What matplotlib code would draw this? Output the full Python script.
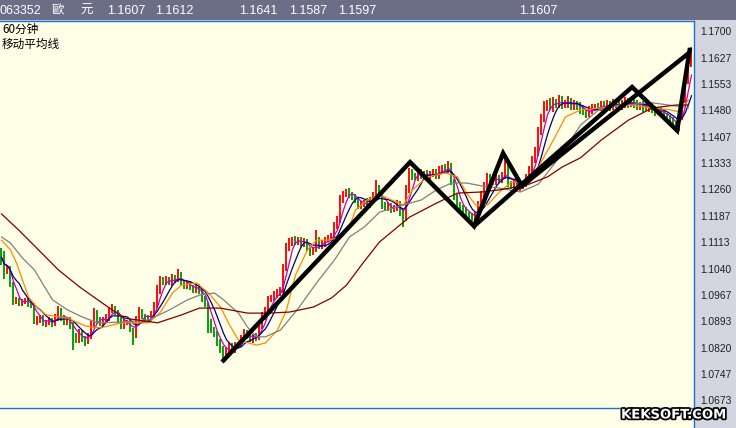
import matplotlib
matplotlib.use("Agg")
import matplotlib.pyplot as plt
import matplotlib.patheffects as pe
from matplotlib.lines import Line2D
from matplotlib.patches import Rectangle
import numpy as np
import pandas as pd

# ---------------- data (prices in 1/10000 units) ----------------
first_open_pips = 11090
close_pips = [
    11071, 11034, 11038, 10995, 10947, 10953, 10945, 10947, 10953, 10942,
    10939, 10892, 10897, 10903, 10886, 10892, 10897, 10886, 10903, 10925,
    10903, 10892, 10897, 10880, 10855, 10842, 10863, 10847, 10836, 10853,
    10883, 10920, 10897, 10886, 10897, 10903, 10925, 10930, 10920, 10897,
    10880, 10892, 10892, 10870, 10855, 10897, 10920, 10908, 10903, 10897,
    10914, 10937, 10980, 11009, 11003, 11009, 11000, 11014, 11009, 11022,
    11003, 10992, 10997, 10987, 10980, 10987, 10975, 10958, 10942, 10892,
    10870, 10858, 10836, 10820, 10803, 10813, 10825, 10813, 10828, 10830,
    10847, 10863, 10853, 10842, 10853, 10847, 10880, 10908, 10925, 10953,
    10958, 10967, 10975, 10980, 11042, 11097, 11114, 11120, 11114, 11120,
    11109, 11114, 11097, 11087, 11092, 11120, 11103, 11109, 11120, 11125,
    11130, 11159, 11175, 11231, 11247, 11254, 11247, 11242, 11231, 11214,
    11220, 11225, 11217, 11231, 11242, 11264, 11245, 11217, 11209, 11214,
    11204, 11209, 11220, 11197, 11181, 11259, 11309, 11297, 11292, 11309,
    11297, 11304, 11292, 11304, 11309, 11297, 11314, 11320, 11314, 11326,
    11281, 11242, 11217, 11209, 11204, 11192, 11187, 11181, 11187, 11217,
    11245, 11272, 11295, 11287, 11281, 11292, 11287, 11297, 11320, 11276,
    11270, 11276, 11264, 11270, 11276, 11292, 11314, 11342, 11364, 11421,
    11459, 11492, 11498, 11492, 11504, 11498, 11509, 11498, 11498, 11504,
    11492, 11498, 11496, 11481, 11476, 11471, 11481, 11487, 11489, 11487,
    11496, 11492, 11498, 11492, 11498, 11501, 11492, 11498, 11504, 11498,
    11506, 11498, 11492, 11496, 11489, 11487, 11492, 11481, 11476, 11481,
    11473, 11464, 11462, 11454, 11442, 11431, 11459, 11509, 11564, 11614,
    11626]
wick_up = [
    6, 17, 8, 10, 7, 9, 5, 8, 6, 9,
    8, 6, 10, 7, 9, 5, 8, 6, 10, 12,
    6, 9, 7, 8, 10, 6, 9, 7, 5, 8,
    12, 9, 6, 8, 7, 10, 8, 11, 6, 5,
    7, 9, 6, 8, 5, 10, 12, 7, 6, 8,
    9, 11, 14, 10, 8, 9, 7, 12, 8, 16,
    8, 6, 9, 7, 8, 6, 9, 7, 5, 6,
    8, 6, 7, 9, 5, 8, 10, 7, 9, 6,
    8, 10, 7, 9, 6, 8, 12, 10, 9, 11,
    8, 10, 7, 9, 12, 14, 10, 8, 11, 9,
    7, 10, 8, 6, 9, 26, 8, 10, 7, 9,
    8, 11, 12, 14, 10, 8, 9, 7, 6, 8,
    9, 7, 10, 8, 12, 22, 9, 7, 8, 10,
    8, 9, 10, 7, 6, 14, 12, 9, 8, 10,
    9, 8, 10, 7, 9, 8, 11, 9, 10, 12,
    7, 8, 6, 9, 7, 8, 6, 7, 9, 10,
    12, 10, 11, 9, 8, 10, 9, 11, 21, 7,
    8, 10, 7, 9, 8, 10, 12, 11, 13, 14,
    12, 14, 10, 16, 12, 9, 14, 10, 12, 16,
    10, 12, 9, 8, 10, 9, 12, 10, 8, 11,
    9, 10, 12, 8, 14, 10, 9, 11, 13, 10,
    12, 9, 11, 8, 10, 9, 7, 8, 10, 9,
    8, 7, 9, 6, 8, 7, 10, 12, 14, 15,
    29]
wick_dn = [
    22, 24, 10, 7, 9, 6, 8, 10, 7, 8,
    10, 7, 9, 8, 6, 10, 8, 9, 7, 8,
    9, 8, 10, 7, 42, 8, 9, 10, 12, 7,
    8, 9, 10, 7, 8, 6, 9, 8, 10, 11,
    9, 8, 10, 7, 28, 8, 9, 7, 10, 8,
    7, 9, 8, 10, 9, 8, 7, 9, 8, 7,
    9, 8, 10, 7, 9, 8, 7, 10, 9, 31,
    10, 8, 12, 16, 17, 9, 10, 8, 9, 7,
    9, 8, 10, 7, 9, 8, 7, 9, 10, 8,
    7, 9, 8, 10, 8, 9, 7, 10, 8, 9,
    10, 8, 9, 11, 8, 7, 10, 8, 9, 7,
    9, 8, 10, 7, 8, 9, 10, 12, 8, 9,
    8, 10, 7, 9, 8, 10, 9, 11, 8, 9,
    10, 8, 9, 11, 25, 9, 8, 10, 7, 9,
    8, 9, 7, 10, 8, 9, 7, 10, 8, 9,
    9, 10, 12, 8, 9, 10, 8, 9, 10, 8,
    9, 8, 10, 7, 9, 8, 10, 9, 8, 10,
    9, 8, 10, 7, 9, 8, 10, 9, 8, 10,
    10, 12, 14, 10, 16, 12, 10, 14, 12, 10,
    12, 10, 14, 12, 10, 11, 9, 12, 10, 9,
    10, 12, 9, 14, 10, 12, 9, 10, 11, 12,
    9, 11, 10, 12, 14, 10, 12, 9, 11, 10,
    9, 10, 8, 9, 10, 12, 8, 7, 9, 10,
    12]

# longer moving averages (bar index, price*10000)
orange_i = [0, 3, 5, 7, 9, 12, 15, 22, 28, 33, 40, 49, 53, 57, 60, 65, 69, 73, 76, 79,
            85, 88, 92, 95, 98, 102, 105, 109, 113, 116, 118, 122, 126, 134, 137, 142,
            148, 152, 155, 158, 162, 166, 170, 175, 179, 184, 188, 193, 200, 209, 217,
            223, 226, 229]
orange_pips = [11119, 11092, 11055, 11008, 10961, 10930, 10911, 10902, 10880, 10875,
               10889, 10889, 10919, 10972, 10994, 11000, 10972, 10933, 10883, 10841,
               10827, 10833, 10869, 10925, 11022, 11092, 11119, 11119, 11128, 11156,
               11203, 11231, 11245, 11217, 11259, 11295, 11306, 11295, 11250, 11217,
               11217, 11253, 11281, 11278, 11323, 11398, 11462, 11481, 11487, 11495,
               11487, 11481, 11476, 11509]
gray_i = [0, 3, 7, 11, 14, 17, 22, 27, 32, 40, 49, 56, 62, 66, 71, 74, 79, 82, 85, 88,
          93, 99, 105, 111, 116, 121, 126, 134, 140, 145, 150, 155, 160, 166, 173, 179,
          186, 193, 199, 206, 217, 225, 229]
gray_pips = [11128, 11111, 11069, 11036, 10994, 10953, 10925, 10905, 10889, 10891,
             10897, 10925, 10953, 10966, 10972, 10953, 10916, 10877, 10850, 10850,
             10869, 10930, 11000, 11064, 11128, 11156, 11197, 11217, 11231, 11259,
             11278, 11278, 11270, 11264, 11253, 11275, 11350, 11439, 11481, 11495,
             11501, 11492, 11487]
maroon_i = [0, 6, 14, 19, 26, 36, 41, 52, 60, 66, 73, 82, 89, 96, 104, 110, 115, 120,
            126, 136, 145, 152, 160, 166, 175, 182, 187, 193, 200, 209, 217, 225, 229]
maroon_pips = [11192, 11145, 11078, 11036, 10989, 10930, 10902, 10889, 10911, 10930,
               10930, 10916, 10916, 10919, 10933, 10958, 10994, 11050, 11114, 11183,
               11222, 11250, 11253, 11259, 11272, 11295, 11323, 11348, 11398, 11453,
               11487, 11495, 11495]

# hand-drawn trend lines (bar index, price)
trend1_i = [73.5, 136.2, 157.5, 167.2, 173.5, 229.5]
trend1_p = [1.0780, 1.1336, 1.1158, 1.1361, 1.1270, 1.1642]
trend2_i = [157.5, 210.2, 225.2, 229.5]
trend2_p = [1.1158, 1.1545, 1.1424, 1.1654]

ytick_labels = ["1.1700", "1.1627", "1.1553", "1.1480", "1.1407", "1.1333", "1.1260",
                "1.1187", "1.1113", "1.1040", "1.0967", "1.0893", "1.0820", "1.0747",
                "1.0673"]
header_texts = ["063352", "歐", "元", "1.1607", "1.1612", "1.1641", "1.1587", "1.1597", "1.1607"]
title_lines = ["60分钟", "移动平均线"]

# ---------------- figure ----------------
W, H = 736, 428
BLUE = "#1673d6"
fig = plt.figure(figsize=(W / 100, H / 100), dpi=100)
fig.patch.set_facecolor("#d5d5e1")

fig.add_artist(Rectangle((0, 1 - 20 / H), 1, 20 / H, transform=fig.transFigure,
                         facecolor="#6c6e87", edgecolor="none", zorder=0))
header_x = [0, 52, 80, 107, 155, 239, 289, 338, 519]
for t, x in zip(header_texts, header_x):
    fig.text(x / W, 1 - 11 / H, t, color="white", fontsize=9, va="center", ha="left",
             family=["Liberation Sans", "Noto Sans CJK TC"])

ax = fig.add_axes([0, 0, 694 / W, 407 / H])
ax.set_facecolor("#fffee6")

n = min(len(close_pips), len(wick_up), len(wick_dn))
close = np.array(close_pips[:n]) / 10000.0
opens = np.concatenate([[first_open_pips / 10000.0], close[:-1]])
hi = np.maximum(opens, close) + np.array(wick_up[:n]) / 10000.0
lo = np.minimum(opens, close) - np.array(wick_dn[:n]) / 10000.0
idx = np.arange(n)
up = close >= opens
ax.vlines(idx[up], lo[up], hi[up], color="#ff0000", lw=1.35, zorder=2)
ax.vlines(idx[~up], lo[~up], hi[~up], color="#009a00", lw=1.35, zorder=2)

s = pd.Series(close)
ax.plot(idx, s.rolling(4, min_periods=1).mean(), color="#c000c0", lw=0.9, zorder=3)
ax.plot(idx, s.rolling(7, min_periods=1).mean(), color="#000080", lw=0.9, zorder=3)
ax.plot(orange_i, np.array(orange_pips) / 10000.0, color="#ff8a00", lw=0.9, zorder=3)
ax.plot(gray_i, np.array(gray_pips) / 10000.0, color="#808080", lw=0.9, zorder=3)
ax.plot(maroon_i, np.array(maroon_pips) / 10000.0, color="#800000", lw=0.9, zorder=3)

ax.plot(trend1_i, trend1_p, color="black", lw=3.2, zorder=4,
        solid_joinstyle="miter", solid_capstyle="butt")
ax.plot(trend2_i, trend2_p, color="black", lw=3.2, zorder=4,
        solid_joinstyle="miter", solid_capstyle="butt")

ax.set_xlim(-0.5, 694 / 3 - 0.5)
ax.set_ylim(1.05964, 1.17287)
ax.set_xticks([])
ax.yaxis.tick_right()
ax.set_yticks([float(v) for v in ytick_labels])
ax.set_yticklabels(ytick_labels, family="Liberation Sans")
ax.tick_params(axis="y", length=0, pad=4.5, labelsize=7.4, labelcolor="#202020")
for side in ("left", "bottom"):
    ax.spines[side].set_visible(False)
for side in ("top", "right"):
    ax.spines[side].set_color(BLUE)
    ax.spines[side].set_linewidth(1.0)

fig.add_artist(Line2D([0, 694 / W], [1 - 408 / H, 1 - 408 / H], transform=fig.transFigure,
                      color=BLUE, lw=1.0, zorder=5))

fig.text(2 / W, 1 - 29 / H, title_lines[0], fontsize=8.4, va="center", ha="left",
         family=["Noto Sans CJK SC", "DejaVu Sans"], color="black")
fig.text(2 / W, 1 - 44 / H, title_lines[1], fontsize=8.4, va="center", ha="left",
         family=["Noto Sans CJK SC", "DejaVu Sans"], color="black")

fig.text(674 / W, 1 - 415 / H, "KEKSOFT.COM", ha="center", va="center", fontsize=9.5,
         fontweight="bold", color="white", family="DejaVu Sans", zorder=10,
         path_effects=[pe.withStroke(linewidth=2.5, foreground="black")])

fig.savefig("out.png", dpi=100, facecolor=fig.get_facecolor())
